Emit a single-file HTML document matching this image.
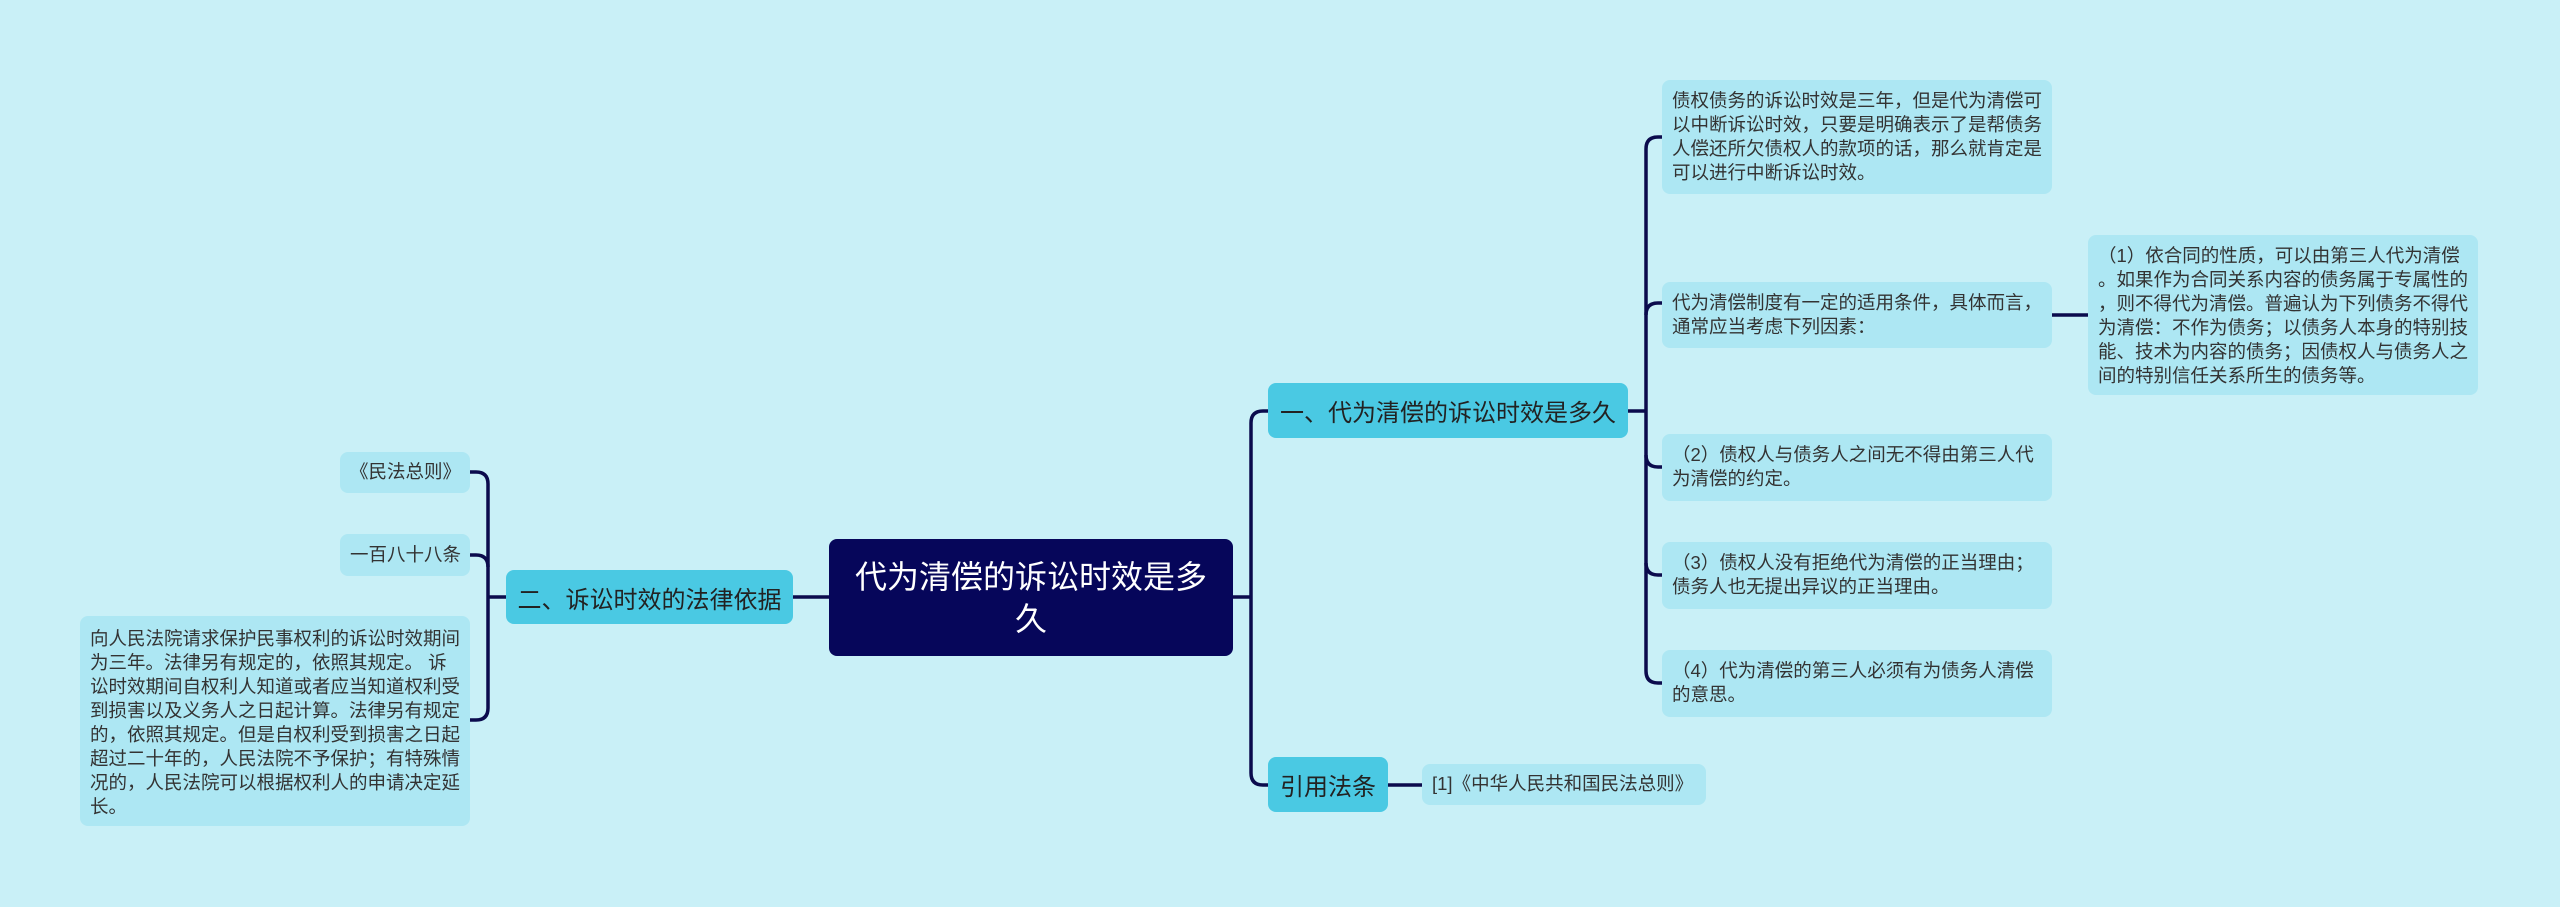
<!DOCTYPE html>
<html><head><meta charset="utf-8"><style>
html,body{margin:0;padding:0}
body{width:2560px;height:907px;background:#c9f0f7;position:relative;overflow:hidden;font-family:"Liberation Sans","Noto Sans CJK SC",sans-serif}
.n{position:absolute;box-sizing:border-box;border-radius:8px}
.leaf{background:#ade7f3;color:#333;font-size:18.5px;line-height:24px;padding:10px 10px 0 10px;white-space:nowrap}
.br{background:#4ac9e3;color:#222;font-size:24px;display:flex;align-items:center;justify-content:center;white-space:nowrap}
.root{background:#06065a;color:#fff;font-size:32px;line-height:42px;text-align:center;display:flex;align-items:center;justify-content:center}
</style></head><body>
<svg width="2560" height="907" style="position:absolute;left:0;top:0" fill="none" stroke="#0b0b4d" stroke-width="3.5">
<path d="M1233 597 H1251"/>
<path d="M1268 411 H1263 Q1251 411 1251 423 V773 Q1251 785 1263 785 H1268"/>
<path d="M1628 411 H1646"/>
<path d="M1662 137 H1658 Q1646 137 1646 149 V671 Q1646 683 1658 683 H1662"/>
<path d="M1646 315 Q1646 303 1658 303 H1662"/>
<path d="M1646 455 Q1646 467 1658 467 H1662"/>
<path d="M1646 563 Q1646 575 1658 575 H1662"/>
<path d="M2052 315 H2088"/>
<path d="M1388 785 H1422"/>
<path d="M829 597 H793"/>
<path d="M506 597 H488"/>
<path d="M470 472 H476 Q488 472 488 484 V708 Q488 720 476 720 H470"/>
<path d="M470 555 H476 Q488 555 488 567"/>
</svg>
<div class="n root" style="left:829px;top:539px;width:404px;height:117px">代为清偿的诉讼时效是多<br>久</div>
<div class="n br" style="left:1268px;top:383px;width:360px;height:55px">一、代为清偿的诉讼时效是多久</div>
<div class="n br" style="left:506px;top:570px;width:287px;height:54px">二、诉讼时效的法律依据</div>
<div class="n br" style="left:1268px;top:757px;width:120px;height:55px">引用法条</div>
<div class="n leaf" style="left:1662px;top:80px;width:390px;height:114px;padding-top:9px">债权债务的诉讼时效是三年，但是代为清偿可<br>以中断诉讼时效，只要是明确表示了是帮债务<br>人偿还所欠债权人的款项的话，那么就肯定是<br>可以进行中断诉讼时效。</div>
<div class="n leaf" style="left:1662px;top:282px;width:390px;height:66px;padding-top:9px">代为清偿制度有一定的适用条件，具体而言，<br>通常应当考虑下列因素：</div>
<div class="n leaf" style="left:2088px;top:235px;width:390px;height:160px;padding-top:9px">（1）依合同的性质，可以由第三人代为清偿<br>。如果作为合同关系内容的债务属于专属性的<br>，则不得代为清偿。普遍认为下列债务不得代<br>为清偿：不作为债务；以债务人本身的特别技<br>能、技术为内容的债务；因债权人与债务人之<br>间的特别信任关系所生的债务等。</div>
<div class="n leaf" style="left:1662px;top:434px;width:390px;height:67px;padding-top:9px">（2）债权人与债务人之间无不得由第三人代<br>为清偿的约定。</div>
<div class="n leaf" style="left:1662px;top:542px;width:390px;height:67px;padding-top:9px">（3）债权人没有拒绝代为清偿的正当理由；<br>债务人也无提出异议的正当理由。</div>
<div class="n leaf" style="left:1662px;top:650px;width:390px;height:67px;padding-top:9px">（4）代为清偿的第三人必须有为债务人清偿<br>的意思。</div>
<div class="n leaf" style="left:1422px;top:764px;width:284px;height:41px;padding-top:8px">[1]《中华人民共和国民法总则》</div>
<div class="n leaf" style="left:340px;top:452px;width:130px;height:41px;padding-top:8px;text-align:center">《民法总则》</div>
<div class="n leaf" style="left:340px;top:534px;width:130px;height:42px;padding-top:9px;text-align:center">一百八十八条</div>
<div class="n leaf" style="left:80px;top:616px;width:390px;height:210px;padding-top:11px">向人民法院请求保护民事权利的诉讼时效期间<br>为三年。法律另有规定的，依照其规定。 诉<br>讼时效期间自权利人知道或者应当知道权利受<br>到损害以及义务人之日起计算。法律另有规定<br>的，依照其规定。但是自权利受到损害之日起<br>超过二十年的，人民法院不予保护；有特殊情<br>况的，人民法院可以根据权利人的申请决定延<br>长。</div>
</body></html>
